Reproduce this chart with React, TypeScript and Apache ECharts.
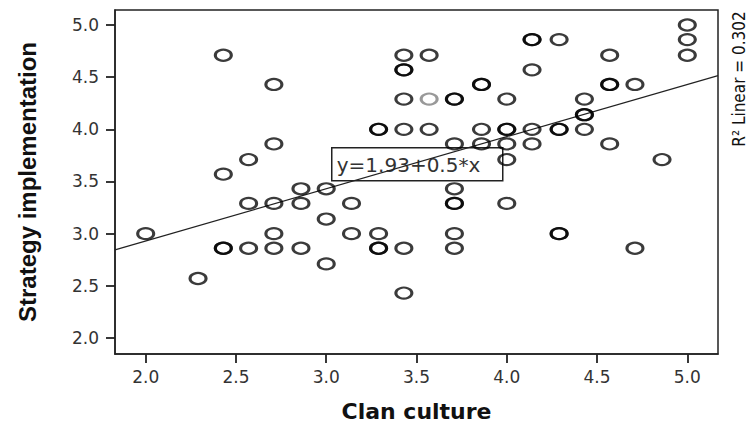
import React, { useEffect, useRef } from "react";
import * as echarts from "echarts";

// Clan culture (x) and Strategy implementation (y), one entry per respondent
const clanX = [
  2.0, 2.29, 2.43, 2.43, 2.43, 2.43, 2.57, 2.57, 2.57, 2.71,
  2.71, 2.71, 2.71, 2.71, 2.86, 2.86, 2.86, 3.0, 3.0, 3.0,
  3.14, 3.14, 3.29, 3.29, 3.29, 3.29, 3.29, 3.43, 3.43, 3.43,
  3.43, 3.43, 3.43, 3.43, 3.57, 3.57, 3.57, 3.71, 3.71, 3.71,
  3.71, 3.71, 3.71, 3.71, 3.71, 3.86, 3.86, 3.86, 3.86, 4.0,
  4.0, 4.0, 4.0, 4.0, 4.0, 4.14, 4.14, 4.14, 4.14, 4.14,
  4.29, 4.29, 4.29, 4.29, 4.29, 4.43, 4.43, 4.43, 4.43, 4.57,
  4.57, 4.57, 4.57, 4.71, 4.71, 4.86, 5.0, 5.0, 5.0,
];
const stratY = [
  3.0, 2.57, 4.71, 3.57, 2.86, 2.86, 3.71, 3.29, 2.86, 4.43,
  3.86, 3.29, 3.0, 2.86, 3.43, 3.29, 2.86, 3.43, 3.14, 2.71,
  3.29, 3.0, 4.0, 4.0, 3.0, 2.86, 2.86, 4.71, 4.57, 4.57,
  4.29, 4.0, 2.86, 2.43, 4.71, 4.29, 4.0, 4.29, 4.29, 3.86,
  3.43, 3.29, 3.29, 3.0, 2.86, 4.43, 4.43, 4.0, 3.86, 4.29,
  4.0, 4.0, 3.86, 3.71, 3.29, 4.86, 4.86, 4.57, 4.0, 3.86,
  4.86, 4.0, 4.0, 3.0, 3.0, 4.29, 4.14, 4.14, 4.0, 4.71,
  4.43, 4.43, 3.86, 4.43, 2.86, 3.71, 5.0, 4.86, 4.71,
];
// point drawn in a lighter grey in the original
const lightPoint = [3.57, 4.29];

// fit line
const intercept = 1.93;
const slope = 0.5;
const rSquared = 0.302;

// axes
const xRange = [1.83, 5.17];
const yRange = [1.846, 5.144];
const tickValues = [2.0, 2.5, 3.0, 3.5, 4.0, 4.5, 5.0];

const xTitle = "Clan culture";
const yTitle = "Strategy implementation";

export default function App() {
  const ref = useRef<HTMLDivElement>(null);
  useEffect(() => {
    if (!ref.current) return;
    const chart = echarts.init(ref.current, null, { renderer: "svg" });
    const points = clanX.map((x, i) => {
      const y = stratY[i];
      const light = x === lightPoint[0] && y === lightPoint[1];
      return light
        ? { value: [x, y], itemStyle: { borderColor: "rgba(0,0,0,0.5)" } }
        : { value: [x, y] };
    });
    const fit = [
      [xRange[0], intercept + slope * xRange[0]],
      [xRange[1], intercept + slope * xRange[1]],
    ];
    const tickFont = {
      fontFamily: "DejaVu Sans",
      fontSize: 17,
      color: "#333",
    };
    chart.setOption({
      animation: false,
      backgroundColor: "#fff",
      grid: {
        left: 115,
        top: 10,
        width: 603,
        height: 344,
        show: true,
        borderColor: "#222",
        borderWidth: 1.5,
        backgroundColor: "transparent",
      },
      xAxis: {
        type: "value",
        min: xRange[0],
        max: xRange[1],
        name: xTitle,
        nameLocation: "middle",
        nameGap: 46,
        nameTextStyle: {
          fontFamily: "DejaVu Sans",
          fontWeight: "bold",
          fontSize: 22,
          color: "#111",
        },
        splitLine: { show: false },
        axisLine: { show: true, lineStyle: { color: "#222", width: 1.5 } },
        axisTick: {
          show: true,
          length: 9,
          customValues: tickValues,
          lineStyle: { color: "#222", width: 1.8 },
        },
        axisLabel: {
          customValues: tickValues,
          margin: 14,
          formatter: (v: number) => v.toFixed(1),
          ...tickFont,
        },
      },
      yAxis: {
        type: "value",
        min: yRange[0],
        max: yRange[1],
        name: yTitle,
        nameLocation: "middle",
        nameRotate: 90,
        nameGap: 76,
        nameTextStyle: {
          fontFamily: "Liberation Sans",
          fontWeight: "bold",
          fontSize: 24,
          color: "#111",
        },
        splitLine: { show: false },
        axisLine: { show: true, lineStyle: { color: "#222", width: 1.5 } },
        axisTick: {
          show: true,
          length: 9,
          customValues: tickValues,
          lineStyle: { color: "#222", width: 1.8 },
        },
        axisLabel: {
          customValues: tickValues,
          margin: 16,
          formatter: (v: number) => v.toFixed(1),
          ...tickFont,
        },
      },
      series: [
        {
          type: "line",
          data: fit,
          symbol: "none",
          silent: true,
          lineStyle: { color: "#222", width: 1.2 },
          z: 2,
        },
        {
          type: "scatter",
          data: points,
          symbol: "circle",
          symbolSize: [16, 11],
          itemStyle: {
            color: "transparent",
            borderColor: "rgba(0,0,0,0.96)",
            borderWidth: 2.6,
          },
          z: 3,
        },
      ],
      graphic: [
        {
          type: "group",
          left: 331,
          top: 147,
          z: 10,
          children: [
            {
              type: "rect",
              shape: { x: 0, y: 0, width: 171, height: 33 },
              style: { fill: "#fff", stroke: "#222", lineWidth: 1.5 },
            },
            {
              type: "text",
              x: 5,
              y: 17,
              style: {
                text: `y=${intercept.toFixed(2)}+${slope}*x`,
                fontFamily: "DejaVu Sans",
                fontSize: 20,
                fill: "#333",
                verticalAlign: "middle",
                align: "left",
              },
            },
          ],
        },
        {
          type: "text",
          x: 739,
          y: 79,
          rotation: Math.PI / 2,
          style: {
            text: `R\u00B2 Linear = ${rSquared.toFixed(3)}`,
            fontFamily: "Liberation Sans Narrow, DejaVu Sans Condensed, sans-serif",
            fontSize: 17,
            fill: "#111",
            align: "center",
            verticalAlign: "middle",
          },
        },
      ],
    });
    return () => chart.dispose();
  }, []);
  return (
    <div
      ref={ref}
      style={{ position: "fixed", left: 0, top: 0, width: 751, height: 430 }}
    />
  );
}
